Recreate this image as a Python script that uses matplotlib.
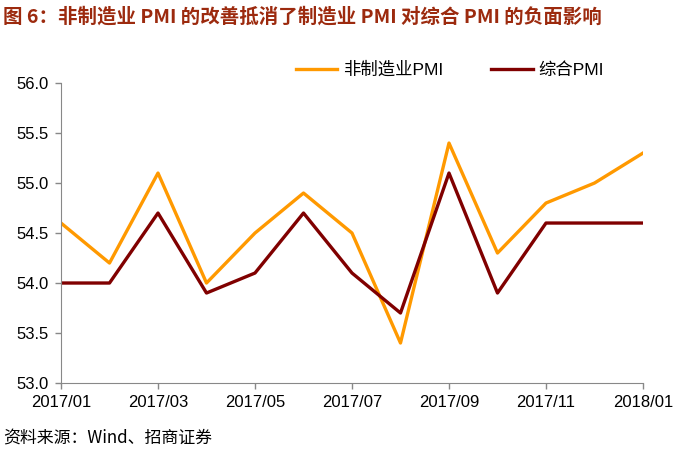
import matplotlib
matplotlib.use("Agg")
import matplotlib.pyplot as plt

months = ["2017/01", "2017/02", "2017/03", "2017/04", "2017/05", "2017/06", "2017/07",
          "2017/08", "2017/09", "2017/10", "2017/11", "2017/12", "2018/01"]
non_mfg = [54.6, 54.2, 55.1, 54.0, 54.5, 54.9, 54.5, 53.4, 55.4, 54.3, 54.8, 55.0, 55.3]
composite = [54.0, 54.0, 54.7, 53.9, 54.1, 54.7, 54.1, 53.7, 55.1, 53.9, 54.6, 54.6, 54.6]

plt.rcParams['font.family'] = ['Liberation Sans', 'Noto Sans CJK SC', 'DejaVu Sans']

fig = plt.figure(figsize=(6.74, 4.49), dpi=100)
ax = fig.add_axes([0.0905, 0.147, 0.8635, 0.668])

x = list(range(len(months)))
ax.plot(x, non_mfg, color='#FF9900', lw=2.4, label='非制造业PMI')
ax.plot(x, composite, color='#800000', lw=2.4, label='综合PMI')

ax.set_xlim(0, len(months) - 1)
ax.set_ylim(53.0, 56.0)
yt = [53.0, 53.5, 54.0, 54.5, 55.0, 55.5, 56.0]
ax.set_yticks(yt)
ax.set_yticklabels([f"{v:.1f}" for v in yt])
ax.set_xticks(x[::2])
ax.set_xticklabels(months[::2])
ax.tick_params(labelsize=12, color='#888888', length=4, width=1, pad=5)
for s in ['top', 'right']:
    ax.spines[s].set_visible(False)
for s in ['left', 'bottom']:
    ax.spines[s].set_color('#888888')

leg = ax.legend(loc='lower center', bbox_to_anchor=(0.668, 1.0), ncol=2, frameon=False,
                fontsize=12.5, handlelength=2.4, columnspacing=2.8, handletextpad=0.3,
                borderaxespad=-0.1)

fig.text(0.005, 0.962, '图 6：非制造业 PMI 的改善抵消了制造业 PMI 对综合 PMI 的负面影响',
         fontsize=14, fontweight='bold', color='#9C2A0E',
         family=['Noto Sans CJK SC', 'DejaVu Sans'], va='center')
fig.text(0.005, 0.025, '资料来源：Wind、招商证券', fontsize=12.2,
         family=['Noto Sans CJK SC', 'DejaVu Sans'], va='center')

fig.savefig('out.png', dpi=100)
